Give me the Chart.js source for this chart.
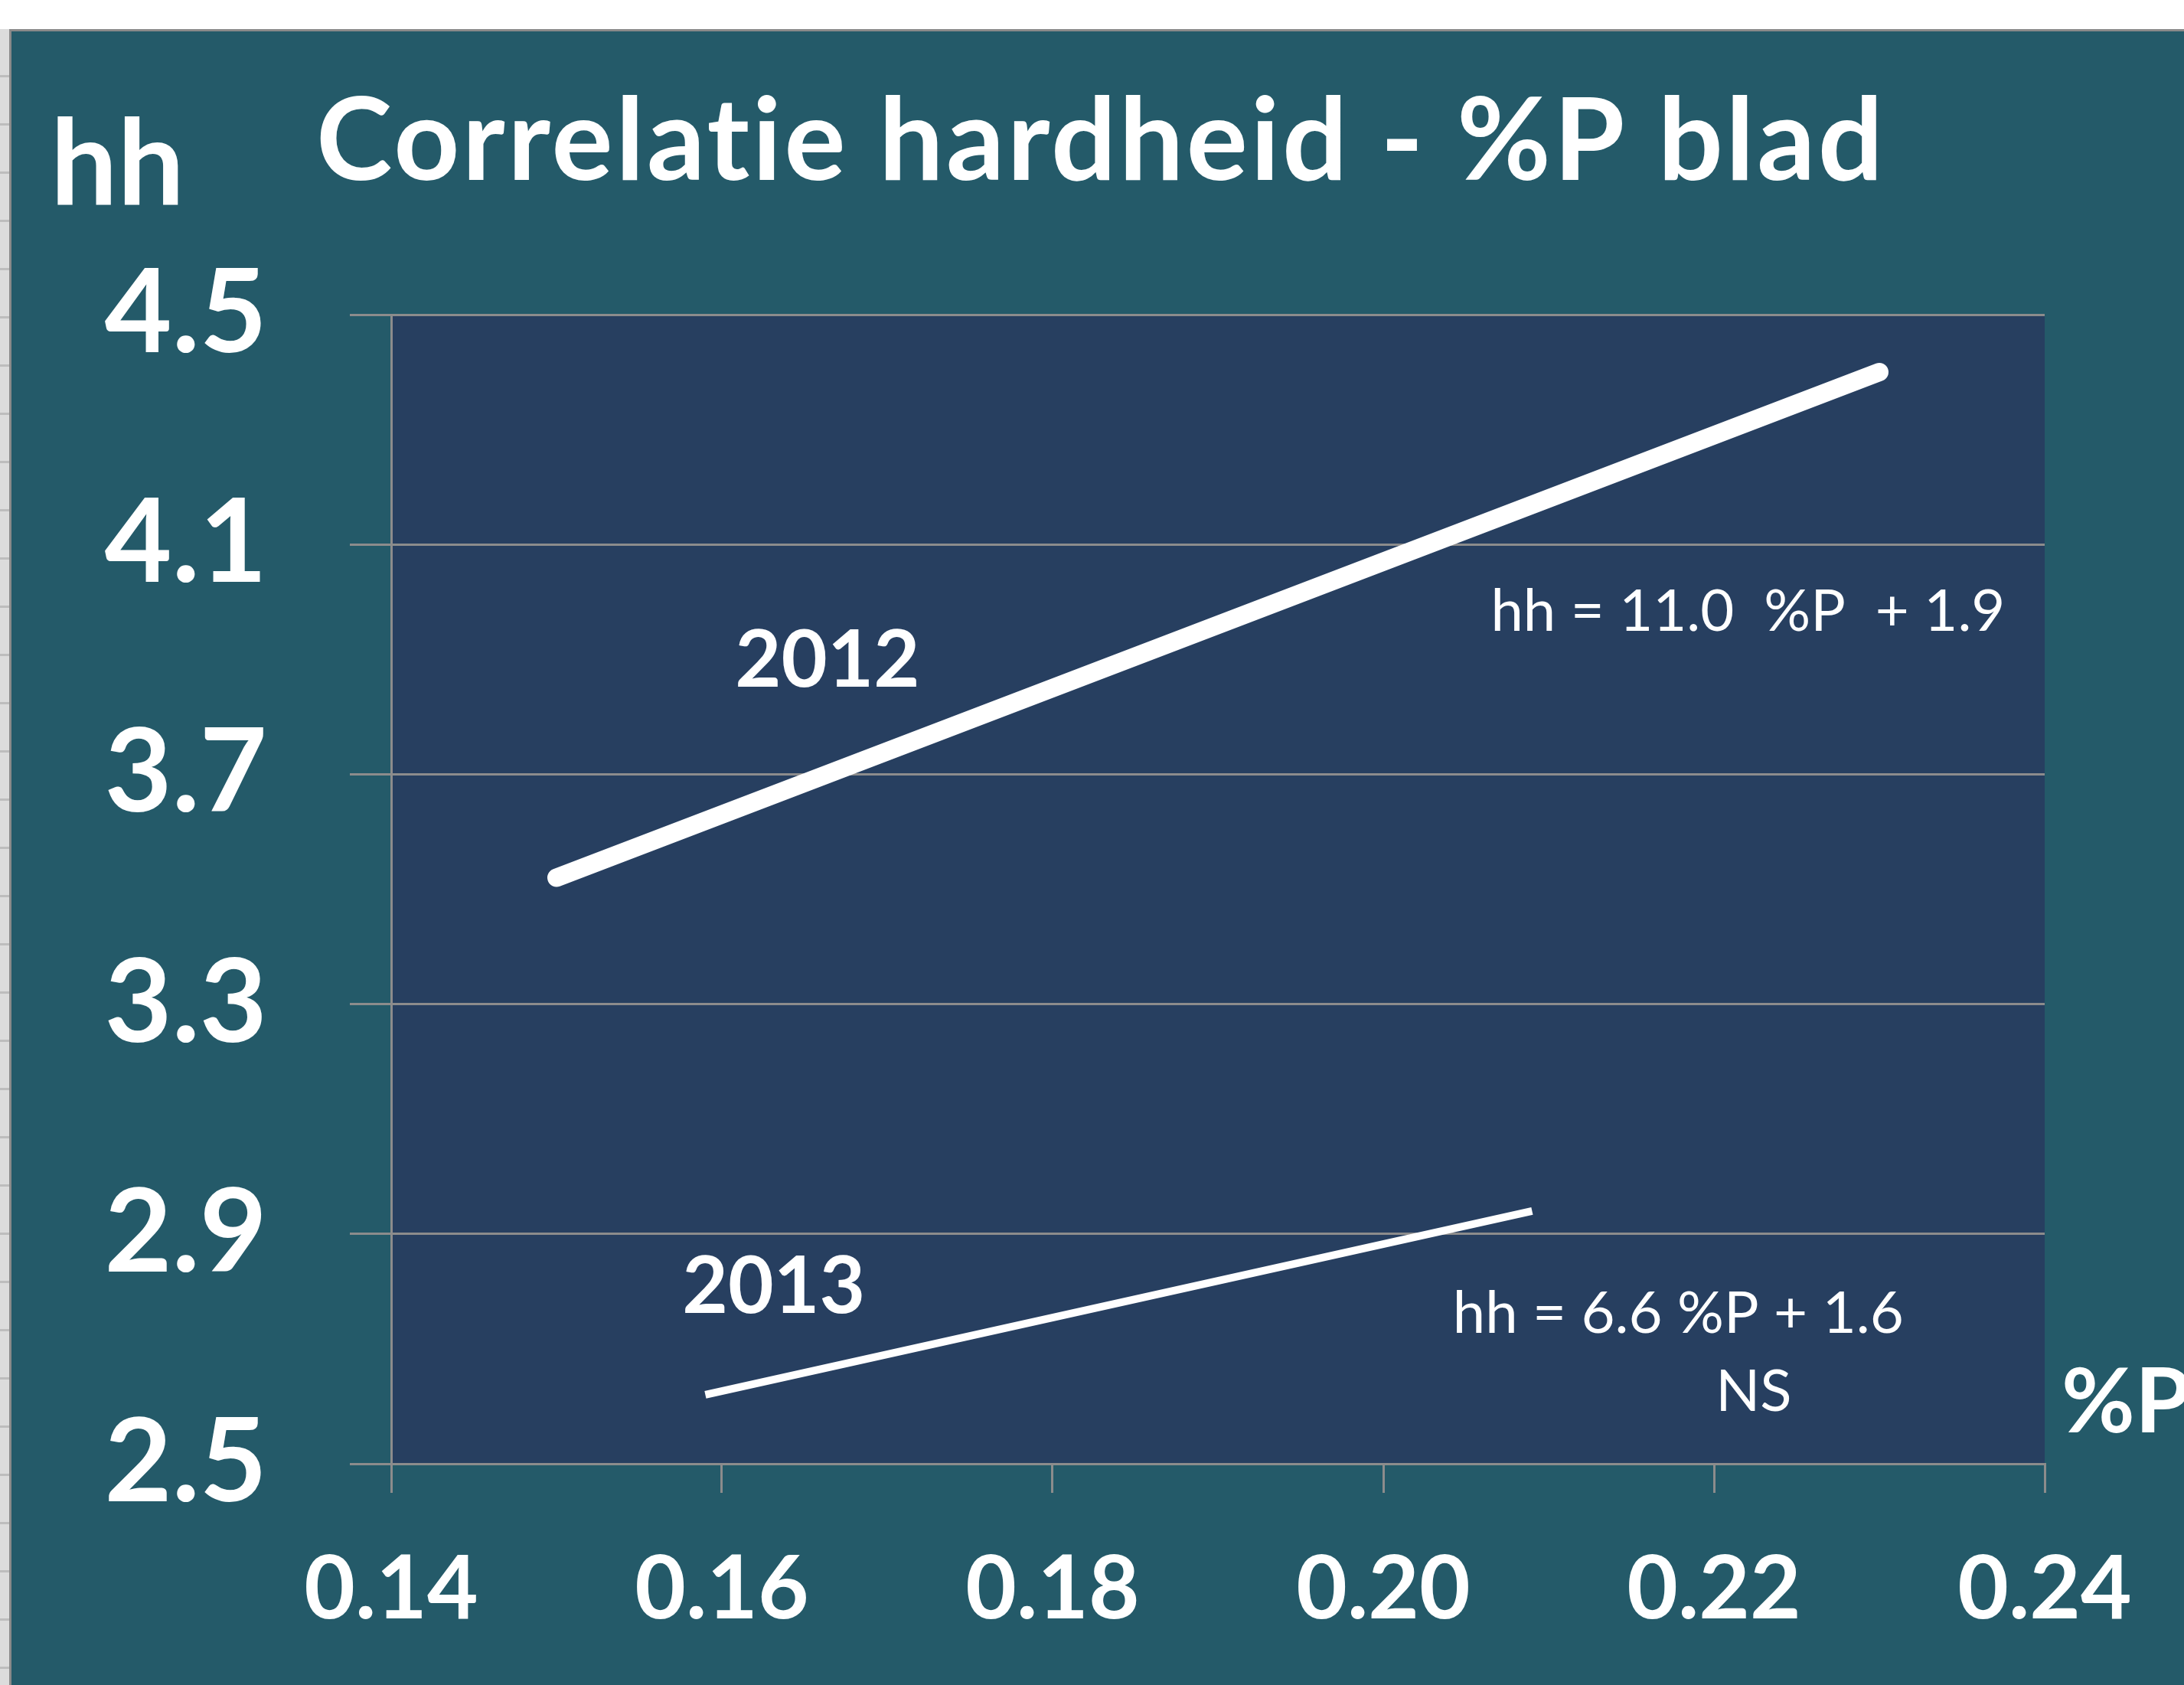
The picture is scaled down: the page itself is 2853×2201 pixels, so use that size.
<!DOCTYPE html>
<html>
<head>
<meta charset="utf-8">
<title>Correlatie hardheid - %P blad</title>
<script src="https://cdn.jsdelivr.net/npm/chart.js@4.4.0/dist/chart.umd.min.js"></script>
<style>
  html, body { margin: 0; padding: 0; background: #fff; width: 2853px; height: 2201px; overflow: hidden; }
  #ruler { position: absolute; left: 0; top: 38px; width: 12px; bottom: 0;
           background: #dcdcdc repeating-linear-gradient(to bottom, transparent 0 60px, #bdbdbd 60px 63px); }
  #panel { position: absolute; left: 12px; top: 38px; right: 0; bottom: 0; background: #245a69;
           border-top: 3px solid #8a8a8a; border-left: 3px solid #8a8a8a; }
  #chart { position: absolute; left: 0; top: 0; }
</style>
</head>
<body>
<div id="ruler"></div>
<div id="panel"></div>
<canvas id="chart" width="2853" height="2201"></canvas>
<script>
// values
const xTicks = [0.14, 0.16, 0.18, 0.20, 0.22, 0.24];
const yTicks = [2.5, 2.9, 3.3, 3.7, 4.1, 4.5];
const p2012 = [0.15, 0.23];
const hh2012 = [3.52, 4.40];
const p2013 = [0.159, 0.209];
const hh2013 = [2.62, 2.94];
const seriesNames = ['2012', '2013'];
const equations = ['hh = 11.0  %P  + 1.9', 'hh = 6.6 %P + 1.6', 'NS'];
const titleText = 'Correlatie hardheid - %P blad';
const yTitle = 'hh';
const xTitle = '%P';

const FONT = 'Lato';
const GRID = '#8c8c8c';
const PLOT_BG = '#273f60';

// fill the plot area (panel colour comes from the page)
const plotBackground = {
  id: 'plotBackground',
  beforeDraw(chart) {
    const { ctx, chartArea: a } = chart;
    ctx.save();
    ctx.fillStyle = PLOT_BG;
    ctx.fillRect(a.left, a.top, a.right - a.left, a.bottom - a.top);
    ctx.restore();
  }
};

// free text: titles in pixels, labels inside the plot in data units
const textLabels = {
  id: 'textLabels',
  afterDraw(chart, args, opts) {
    const { ctx, scales } = chart;
    ctx.save();
    ctx.fillStyle = '#fff';
    ctx.textBaseline = 'alphabetic';
    ctx.textAlign = 'left';
    for (const t of opts.items) {
      let x = t.x, y = t.y;
      if (t.data) {
        x = scales.x.getPixelForValue(t.x);
        y = scales.y.getPixelForValue(t.y);
      }
      ctx.font = `${t.weight} ${t.size}px ${FONT}`;
      ctx.letterSpacing = (t.spacing || 0) + 'px';
      ctx.fillText(t.text, x, y);
    }
    ctx.restore();
  }
};

const toPoints = (xs, ys) => xs.map((x, i) => ({ x, y: ys[i] }));

new Chart(document.getElementById('chart'), {
  type: 'scatter',
  data: {
    datasets: [{
      label: seriesNames[0],
      data: toPoints(p2012, hh2012),
      showLine: true,
      borderColor: '#fff',
      borderWidth: 24,
      borderCapStyle: 'round',
      pointRadius: 0
    }, {
      label: seriesNames[1],
      data: toPoints(p2013, hh2013),
      showLine: true,
      borderColor: '#fff',
      borderWidth: 10,
      borderCapStyle: 'butt',
      pointRadius: 0
    }]
  },
  options: {
    responsive: false,
    animation: false,
    layout: { padding: { left: 0, top: 411, right: 182, bottom: 0 } },
    scales: {
      x: {
        type: 'linear',
        min: xTicks[0],
        max: xTicks[xTicks.length - 1],
        afterBuildTicks: s => { s.ticks = xTicks.map(v => ({ value: v })); },
        afterFit: s => { s.height = 289; },
        grid: { drawOnChartArea: false, drawTicks: true, tickLength: 38, color: GRID, lineWidth: 3 },
        border: { display: true, color: GRID, width: 3 },
        ticks: {
          color: '#fff',
          padding: 58,
          maxRotation: 0,
          font: { family: FONT, size: 115, weight: 'bold' },
          callback: v => v.toFixed(2)
        }
      },
      y: {
        type: 'linear',
        min: yTicks[0],
        max: yTicks[yTicks.length - 1],
        afterBuildTicks: s => { s.ticks = yTicks.map(v => ({ value: v })); },
        afterFit: s => { s.width = 511; },
        grid: { drawOnChartArea: true, drawTicks: true, tickLength: 54, color: GRID, lineWidth: 3 },
        border: { display: true, color: GRID, width: 3 },
        ticks: {
          color: '#fff',
          padding: 108,
          font: { family: FONT, size: 152, weight: 'bold' },
          callback: v => v.toFixed(1)
        }
      }
    },
    plugins: {
      legend: { display: false },
      tooltip: { enabled: false },
      textLabels: {
        items: [
          { text: titleText, x: 413, y: 235, size: 150, weight: 'bold', spacing: 3.5 },
          { text: yTitle, x: 66, y: 267, size: 155, weight: 'bold' },
          { text: xTitle, x: 2693, y: 1871, size: 117, weight: 'bold' },
          { text: seriesNames[0], data: true, x: 0.1608, y: 3.852, size: 104, weight: 'bold' },
          { text: seriesNames[1], data: true, x: 0.1576, y: 2.7625, size: 103, weight: 'bold' },
          { text: equations[0], data: true, x: 0.2065, y: 3.9497, size: 76, weight: 'normal' },
          { text: equations[1], data: true, x: 0.2042, y: 2.728, size: 76, weight: 'normal' },
          { text: equations[2], data: true, x: 0.2201, y: 2.592, size: 76, weight: 'normal' }
        ]
      }
    }
  },
  plugins: [plotBackground, textLabels]
});
</script>
</body>
</html>
